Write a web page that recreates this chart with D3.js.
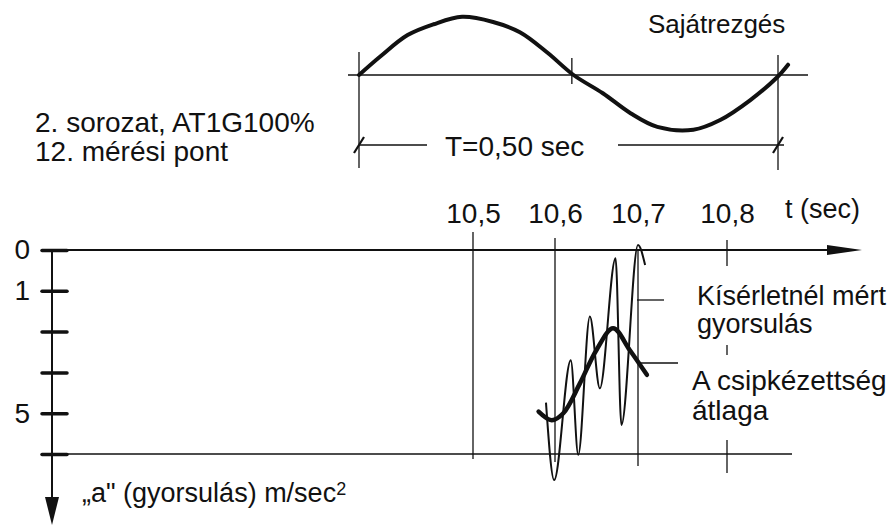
<!DOCTYPE html>
<html>
<head>
<meta charset="utf-8">
<script src="https://cdn.jsdelivr.net/npm/d3@7"></script>
<style>
  body { margin: 0; background: #fff; }
  svg text { font-family: "Liberation Sans", Arial, sans-serif; fill: #111; }
</style>
</head>
<body>
<div id="chart"></div>
<script>
// DATA
var tTicks = [10.5, 10.6, 10.7, 10.8];
var tTickLabels = ["10,5", "10,6", "10,7", "10,8"];
var aTicks = [0, 1, 2, 3, 4, 5];
var aTickLabels = ["0", "1", "", "", "5", ""];

// measured acceleration (thin line), read at turning points
var measuredT = [10.589, 10.599, 10.619, 10.628, 10.642, 10.654, 10.673, 10.680, 10.700, 10.708];
var measuredA = [3.74, 5.64, 2.70, 5.02, 1.63, 3.39, 0.20, 4.29, -0.12, 0.37];

// average of the jaggedness (thick line)
var avgT = [10.580, 10.596, 10.610, 10.630, 10.650, 10.670, 10.690, 10.710];
var avgA = [3.96, 4.17, 4.00, 3.27, 2.45, 1.92, 2.45, 3.06];

// natural vibration sketch, one period T = 0,50 sec
var sineT = [0, 0.025, 0.058, 0.089, 0.123, 0.160, 0.192, 0.225, 0.256, 0.291, 0.324, 0.356, 0.399, 0.431, 0.467, 0.499, 0.512];
var sineV = [0, 0.32, 0.70, 0.89, 1.02, 0.93, 0.75, 0.39, 0, -0.32, -0.67, -0.91, -0.96, -0.79, -0.44, -0.04, 0.18];
var sineMarks = [0, 0.254, 0.5];

var W = 896, H = 527;
var FS = 28;

var svg = d3.select('#chart').append('svg')
  .attr('width', W)
  .attr('height', H);

// SCALES (hand drawn axis, ticks not evenly spaced)
var x = d3.scaleLinear().domain(tTicks).range([473, 555, 638, 727]);
var y = d3.scaleLinear().domain([0, 5]).range([250, 454]);
var xs = d3.scaleLinear().domain([0, 0.5]).range([359, 778]);
var ys = d3.scaleLinear().domain([-1, 1]).range([132, 18]);

var axisX = 52;

function line(g, x1, y1, x2, y2, w) {
  return g.append('line')
    .attr('x1', x1).attr('y1', y1).attr('x2', x2).attr('y2', y2)
    .attr('stroke', '#111').attr('stroke-width', w || 1.3);
}

function label(g, tx, ty, str, fs) {
  return g.append('text')
    .attr('x', tx).attr('y', ty)
    .style('font-size', (fs || FS) + 'px')
    .text(str);
}

// ---------- TOP SKETCH ----------
var sketch = svg.append('g');
line(sketch, 348, ys(0), 808, ys(0));
line(sketch, xs(0), 52, xs(0), 168);
line(sketch, xs(sineMarks[1]), 58, xs(sineMarks[1]), 84);
line(sketch, xs(0.5), 55, xs(0.5), 170);

sketch.append('path')
  .datum(d3.range(sineT.length))
  .attr('fill', 'none')
  .attr('stroke', '#111')
  .attr('stroke-width', 4)
  .attr('stroke-linecap', 'round')
  .attr('d', d3.line()
    .x(function(i) { return xs(sineT[i]); })
    .y(function(i) { return ys(sineV[i]); })
    .curve(d3.curveCatmullRom));

// dimension line
var dimY = 145;
line(sketch, xs(0), dimY, 427, dimY);
line(sketch, 618, dimY, xs(0.5) + 6, dimY);
[0, 0.5].forEach(function(t) {
  line(sketch, xs(t) - 5, dimY + 8, xs(t) + 5, dimY - 8, 2.2);
});
label(sketch, 445, 156, 'T=0,50 sec');
label(sketch, 648, 33, 'Sajátrezgés', 26);

// left info
label(svg, 35, 132, '2. sorozat, AT1G100%');
label(svg, 35, 161, '12. mérési pont');

// ---------- MAIN CHART ----------
var chart = svg.append('g');

// vertical grid lines
line(chart, x(10.5), 232, x(10.5), 459);
line(chart, x(10.6), 238, x(10.6), 462);
line(chart, x(10.7), y(0), x(10.7), 466);
line(chart, x(10.8), 240, x(10.8), 266);
line(chart, x(10.8), 345, x(10.8), 355);
line(chart, x(10.8), 440, x(10.8), 473);

// bottom line
line(chart, 42, y(5), 792, y(5), 1.5);

// time axis with arrow
line(chart, 42, y(0), 835, y(0), 2.2);
chart.append('path')
  .attr('d', 'M827,' + (y(0) - 5) + 'L862,' + y(0) + 'L827,' + (y(0) + 5) + 'Z')
  .attr('fill', '#111');

var xAxis = d3.axisTop(x)
  .tickValues(tTicks)
  .tickFormat(function(d, i) { return tTickLabels[i]; })
  .tickSize(0)
  .tickPadding(27);
var gx = chart.append('g')
  .attr('transform', 'translate(0,' + y(0) + ')')
  .call(xAxis);
gx.select('.domain').remove();
gx.selectAll('text')
  .style('font-size', FS + 'px')
  .attr('fill', '#111');

label(chart, 785, 218, 't (sec)', 27);

// acceleration axis with arrow
line(chart, axisX, y(0), axisX, 505, 2);
chart.append('path')
  .attr('d', 'M' + (axisX - 7) + ',497L' + axisX + ',525L' + (axisX + 7) + ',497Z')
  .attr('fill', '#111');

var yAxis = d3.axisLeft(y)
  .tickValues(aTicks)
  .tickFormat(function(d, i) { return aTickLabels[i]; })
  .tickSize(10)
  .tickPadding(12);
var gy = chart.append('g')
  .attr('transform', 'translate(' + axisX + ',0)')
  .call(yAxis);
gy.select('.domain').remove();
gy.selectAll('.tick line')
  .attr('x1', -10).attr('x2', 15)
  .attr('stroke', '#111')
  .attr('stroke-width', 3.5)
  .attr('stroke-linecap', 'round');
gy.selectAll('text')
  .style('font-size', FS + 'px')
  .attr('fill', '#111');

var yl = label(chart, 82, 502, '', 27);
yl.append('tspan').text('„a" (gyorsulás) m/sec');
yl.append('tspan').attr('dy', -7).style('font-size', '18px').text('2');

// measured curve
chart.append('path')
  .datum(d3.range(measuredT.length))
  .attr('fill', 'none')
  .attr('stroke', '#111')
  .attr('stroke-width', 2)
  .attr('d', d3.line()
    .x(function(i) { return x(measuredT[i]); })
    .y(function(i) { return y(measuredA[i]); })
    .curve(d3.curveMonotoneX));

// average curve
chart.append('path')
  .datum(d3.range(avgT.length))
  .attr('fill', 'none')
  .attr('stroke', '#111')
  .attr('stroke-width', 4.5)
  .attr('stroke-linecap', 'round')
  .attr('d', d3.line()
    .x(function(i) { return x(avgT[i]); })
    .y(function(i) { return y(avgA[i]); })
    .curve(d3.curveCatmullRom));

// leaders + labels
line(chart, 637, 300, 664, 300);
line(chart, 640, 363, 678, 363);
label(chart, 697, 305, 'Kísérletnél mért', 27);
label(chart, 697, 333, 'gyorsulás', 27);
label(chart, 692, 390, 'A csipkézettség');
label(chart, 692, 420, 'átlaga');
</script>
</body>
</html>
